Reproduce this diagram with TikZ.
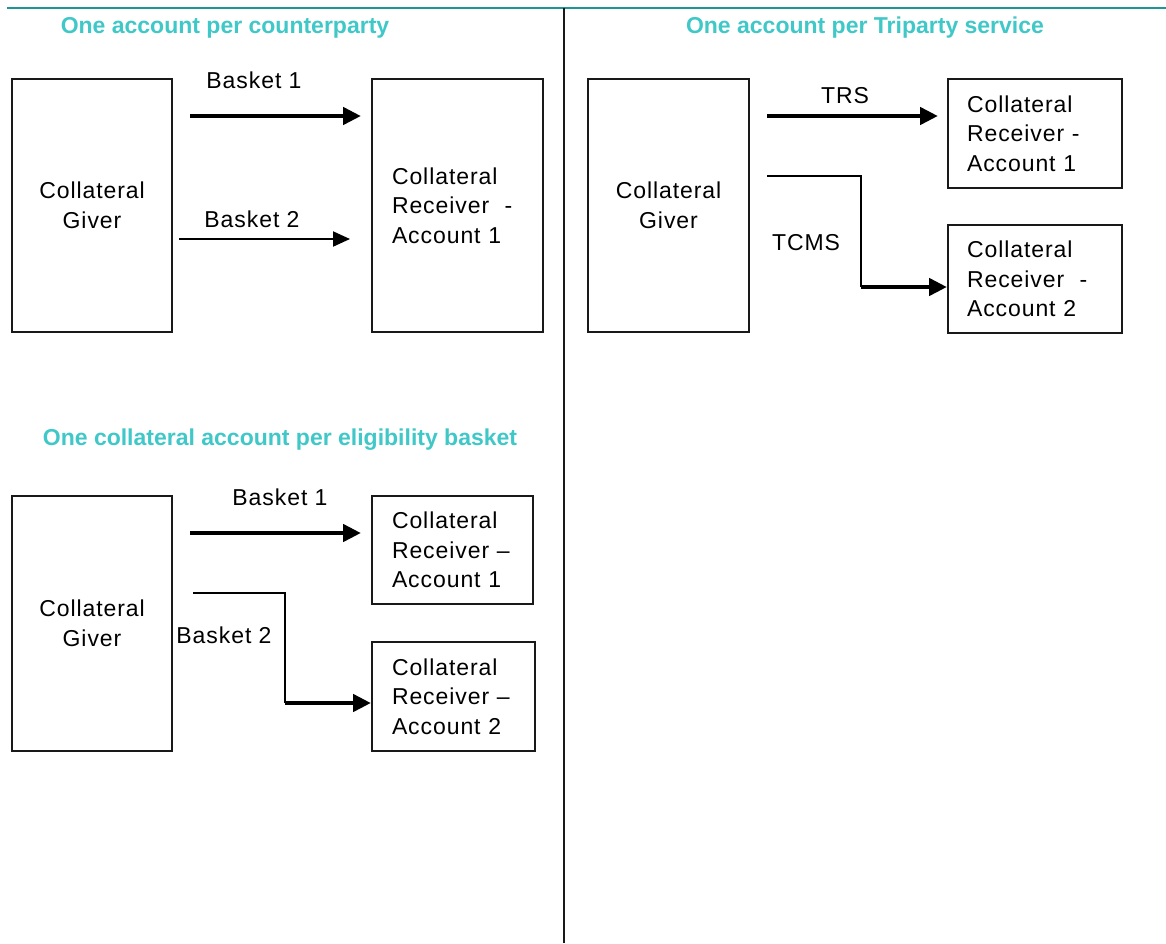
\documentclass[tikz,border=0pt]{standalone}
\usepackage{fontspec}
\setmainfont{Liberation Sans}[LetterSpace=4]
\newfontfamily\hdrfont{Liberation Sans}
\usetikzlibrary{arrows.meta}
\definecolor{hdrcol}{RGB}{64,200,200}
\definecolor{rulecol}{RGB}{30,150,150}
\definecolor{linecol}{RGB}{25,25,25}
\begin{document}
\begin{tikzpicture}[x=1pt,y=-1pt,
  font=\fontsize{23}{29.5}\selectfont,
  box/.style={draw=linecol, line width=2pt, inner ysep=0pt},
  giver/.style={box, inner xsep=0pt, minimum width=#1, align=center},
  recv/.style={box, text width=#1, align=left},
  hdr/.style={text=hdrcol, font=\hdrfont\fontsize{23}{28}\selectfont\bfseries, anchor=base, inner sep=0pt},
  lbl/.style={anchor=base, inner sep=0pt},
  thk/.style={line width=4.5pt, -{Triangle[length=18pt,width=17pt]}},
  thn/.style={line width=2pt, -{Triangle[length=17pt,width=15pt]}},
  thnl/.style={line width=2pt}]
\useasboundingbox (0,0) rectangle (1166,943);
\fill[white] (0,0) rectangle (1166,943);

% frame lines
\coordinate (tl) at (7,8);
\coordinate (tr) at (1166,8);
\coordinate (dt) at (564,8);
\coordinate (db) at (564,943);
\draw[rulecol, line width=2.2pt] (tl) -- (tr);
\draw[linecol, line width=2pt] (dt) -- (db);

% headers
\node[hdr] (h1) at (225,33) {One account per counterparty};
\node[hdr] (h2) at (865,33) {One account per Triparty service};
\node[hdr] (h3) at (280,445) {One collateral account per eligibility basket};

% panel 1
\node[giver=160pt, minimum height=253pt] (g1) at (92,205.5) {Collateral\\Giver};
\node[recv=131pt, inner xsep=20pt, minimum height=253pt] (r1) at (457.5,205.5) {Collateral\\Receiver\ \ -\\Account 1};
\node[lbl] (l11) at (254,88) {Basket 1};
\node[lbl] (l12) at (252,227) {Basket 2};
\draw[thk] ([shift={(17,38)}]g1.north east) -- ([shift={(-10,38)}]r1.north west);
\draw[thn] ([shift={(6,161)}]g1.north east) -- ([shift={(-21,161)}]r1.north west);

% panel 2
\node[giver=161pt, minimum height=253pt] (g2) at (668.5,205.5) {Collateral\\Giver};
\node[recv=136pt, inner xsep=19pt, minimum height=109pt] (r21) at (1035,133.5) {Collateral\\Receiver -\\Account 1};
\node[recv=136pt, inner xsep=19pt, minimum height=108pt] (r22) at (1035,279) {Collateral\\Receiver\ \ -\\Account 2};
\node[lbl] (l21) at (845,103) {TRS};
\node[lbl] (l22) at (806,250) {TCMS};
\draw[thk] ([shift={(17,38)}]g2.north east) -- ([shift={(-9,38)}]r21.north west);
\coordinate (c2) at (861,287);
\draw[thnl] ([shift={(17,98)}]g2.north east) -| (c2);
\draw[thk] (c2) -- (c2 -| r22.west);

% panel 3
\node[giver=160pt, minimum height=255pt] (g3) at (92,623.5) {Collateral\\Giver};
\node[recv=121pt, inner xsep=20pt, minimum height=108pt] (r31) at (452.5,550) {Collateral\\Receiver –\\Account 1};
\node[recv=123pt, inner xsep=20pt, minimum height=109pt] (r32) at (453.5,696.5) {Collateral\\Receiver –\\Account 2};
\node[lbl] (l31) at (280,505) {Basket 1};
\node[lbl] (l32) at (224,643) {Basket 2};
\draw[thk] ([shift={(17,38)}]g3.north east) -- ([shift={(-10,38)}]r31.north west);
\coordinate (c3) at (285,703);
\draw[thnl] ([shift={(20,98)}]g3.north east) -| (c3);
\draw[thk] (c3) -- (c3 -| r32.west);
\end{tikzpicture}
\end{document}
